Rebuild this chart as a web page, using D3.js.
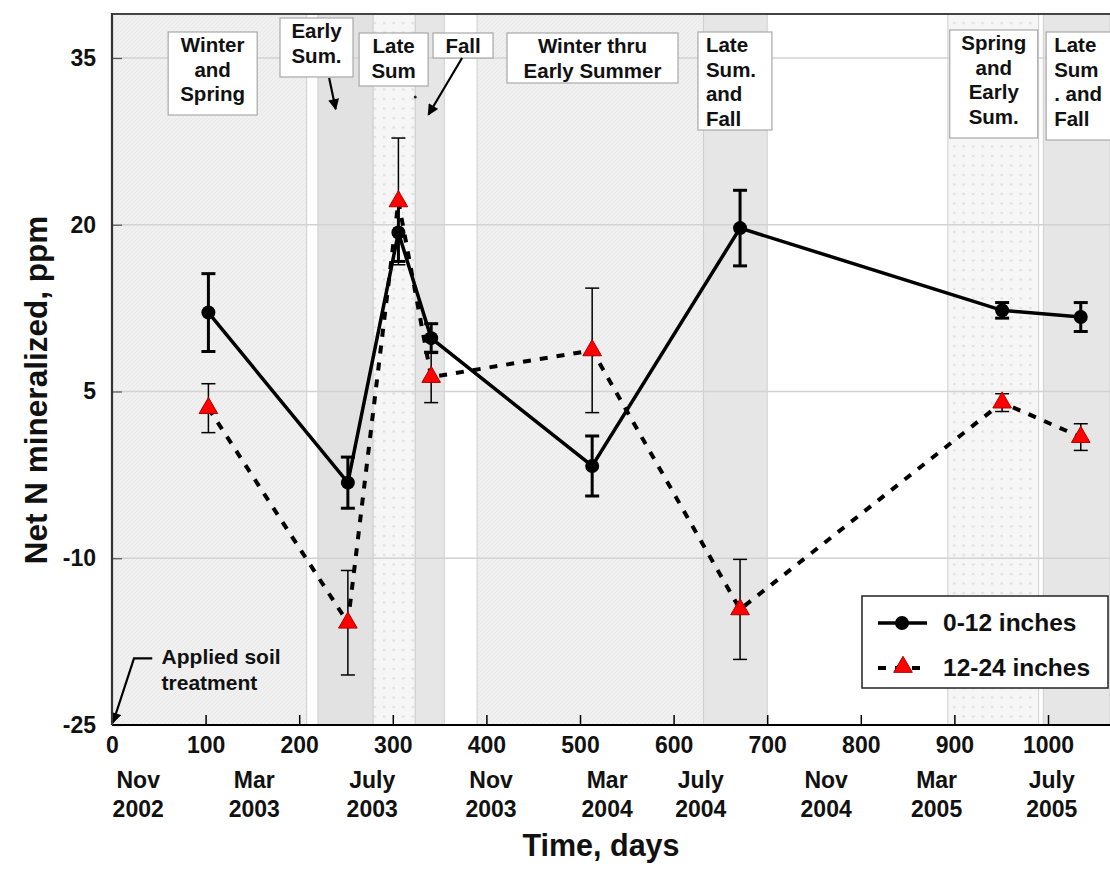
<!DOCTYPE html>
<html>
<head>
<meta charset="utf-8">
<script src="https://cdn.jsdelivr.net/npm/d3@7/dist/d3.min.js"></script>
<style>
  body { margin: 0; background: #fff; }
  svg { display: block; font-family: "Liberation Sans", Arial, sans-serif; font-weight: bold; }
</style>
</head>
<body>
<svg id="chart" width="1110" height="869"></svg>
<script>
// sampling day (days after soil treatment)
var days = [103, 252, 306, 341, 513, 671, 951, 1035];

// 0-12 inches
var shallow = [12.1, -3.2, 19.3, 9.8, -1.7, 19.7, 12.3, 11.7];
var shallowErr = [3.5, 2.3, 2.6, 1.3, 2.7, 3.4, 0.7, 1.3];

// 12-24 inches
var deep = [3.5, -15.8, 22.1, 6.3, 8.7, -14.6, 4.0, 0.9];
var deepErr = [2.2, 4.7, 5.7, 2.3, 5.6, 4.5, 0.8, 1.2];

var yTicks = [35, 20, 5, -10, -25];
var xTicks = [0, 100, 200, 300, 400, 500, 600, 700, 800, 900, 1000];

var monthNames = ['Nov', 'Mar', 'July', 'Nov', 'Mar', 'July', 'Nov', 'Mar', 'July'];
var monthYears = ['2002', '2003', '2003', '2003', '2004', '2004', '2004', '2005', '2005'];
var monthDays = [28, 152, 278, 405, 529, 629, 763, 881, 1004];

// seasonal bands (days)
var bandStart = [0, 220, 279, 324, 390, 632, 893, 995];
var bandEnd = [208, 279, 324, 355, 632, 700, 990, 1070];
var bandKind = ['hatch', 'dark', 'dots', 'mid', 'hatch', 'mid', 'dots', 'mid'];

// season label boxes: left edge in days, top in px, width / height in px
var seasonLines = [
    ['Winter', 'and', 'Spring'],
    ['Early', 'Sum.'],
    ['Late', 'Sum'],
    ['Fall'],
    ['Winter thru', 'Early Summer'],
    ['Late', 'Sum.', 'and', 'Fall'],
    ['Spring', 'and', 'Early', 'Sum.'],
    ['Late', 'Sum', '. and', 'Fall']
];
var seasonLeft = [60, 179.5, 264, 343, 422, 626, 895, 998];
var seasonTop = [32, 18, 33, 33, 33, 32, 30, 32];
var seasonW = [89, 73, 69, 60, 171, 74, 88, 72];
var seasonH = [83, 59, 53, 25, 50, 98, 108, 108];
var seasonAlign = ['middle', 'middle', 'middle', 'middle', 'middle', 'start', 'middle', 'start'];

var svg = d3.select('#chart'),
    plotLeft = 112, plotRight = 1110, plotTop = 14, plotBottom = 725;

var x = d3.scaleLinear().domain([0, 1000]).range([plotLeft, 1048]);
var y = d3.scaleLinear().domain([-25, 35]).range([plotBottom, 58]);
var xMax = x.invert(plotRight), yMax = y.invert(plotTop);

var defs = svg.append('defs');

var dots = defs.append('pattern').attr('id', 'dots')
    .attr('patternUnits', 'userSpaceOnUse').attr('width', 9.5).attr('height', 9.5);
dots.append('rect').attr('width', 9.5).attr('height', 9.5).attr('fill', '#f6f6f6');
dots.append('rect').attr('x', 3).attr('y', 3).attr('width', 2.5).attr('height', 2).attr('fill', '#dedede');

var hatch = defs.append('pattern').attr('id', 'hatch')
    .attr('patternUnits', 'userSpaceOnUse').attr('width', 4).attr('height', 4);
hatch.append('rect').attr('width', 4).attr('height', 4).attr('fill', '#f0f0f0');
hatch.append('path').attr('d', 'M0,4L4,0').attr('stroke', '#e9e9e9').attr('stroke-width', 1);

defs.append('marker').attr('id', 'arrow')
    .attr('viewBox', '0 0 10 10').attr('refX', 9).attr('refY', 5)
    .attr('markerWidth', 14).attr('markerHeight', 11)
    .attr('markerUnits', 'userSpaceOnUse')
    .attr('orient', 'auto')
  .append('path').attr('d', 'M0,0L10,5L0,10z').attr('fill', '#000');

var fills = {hatch: 'url(#hatch)', dark: '#e2e2e2', dots: 'url(#dots)', mid: '#e6e6e6'};

// bands
svg.append('g').selectAll('rect')
    .data(bandStart)
    .enter().append('rect')
    .attr('x', function(d){ return x(d); })
    .attr('y', plotTop)
    .attr('width', function(d, i){ return x(Math.min(bandEnd[i], xMax)) - x(d); })
    .attr('height', plotBottom - plotTop)
    .attr('fill', function(d, i){ return fills[bandKind[i]]; })
    .attr('stroke', '#cfcfcf')
    .attr('stroke-width', 1);

// horizontal grid
svg.append('g').selectAll('line')
    .data(yTicks.slice(0, 4))
    .enter().append('line')
    .attr('x1', plotLeft).attr('x2', plotRight)
    .attr('y1', function(d){ return y(d); })
    .attr('y2', function(d){ return y(d); })
    .attr('stroke', '#d2d2d2')
    .attr('stroke-width', 1.5);

// label boxes
var boxes = svg.append('g').selectAll('g')
    .data(seasonLines)
    .enter().append('g')
    .attr('transform', function(d, i){ return 'translate(' + x(seasonLeft[i]) + ',' + seasonTop[i] + ')'; });

boxes.append('rect')
    .attr('width', function(d, i){ return seasonW[i]; })
    .attr('height', function(d, i){ return seasonH[i]; })
    .attr('fill', '#fff')
    .attr('stroke', '#a8a8a8')
    .attr('stroke-width', 1.2);

boxes.each(function(lines, i){
    var g = d3.select(this);
    var tx = seasonAlign[i] === 'middle' ? seasonW[i] / 2 : 8;
    g.selectAll('text')
        .data(lines)
        .enter().append('text')
        .attr('x', tx)
        .attr('y', function(d, j){ return 20 + j * 24.5; })
        .attr('text-anchor', seasonAlign[i])
        .attr('font-size', 20.5)
        .attr('fill', '#111')
        .text(function(d){ return d; });
});

// arrows (days, ppm)
var arrows = [
    [[232, 33.2], [239, 30.4]],
    [[374, 35.0], [338, 29.9]],
    [[43, -19.0], [23.5, -19.0], [1, -24.8]]
];
var arrowLine = d3.line()
    .x(function(d){ return x(d[0]); })
    .y(function(d){ return y(d[1]); });

svg.append('g').selectAll('path')
    .data(arrows)
    .enter().append('path')
    .attr('d', arrowLine)
    .attr('fill', 'none')
    .attr('stroke', '#000')
    .attr('stroke-width', 2.2)
    .attr('marker-end', 'url(#arrow)');

svg.append('circle').attr('cx', x(324)).attr('cy', y(31.5)).attr('r', 1.5).attr('fill', '#222');

svg.append('text')
    .attr('x', x(53)).attr('y', y(-19.5))
    .attr('font-size', 21)
    .attr('fill', '#111')
  .selectAll('tspan')
    .data(['Applied soil', 'treatment'])
    .enter().append('tspan')
    .attr('x', x(53))
    .attr('dy', function(d, i){ return i ? 26 : 0; })
    .text(function(d){ return d; });

// error bars
function errorBars(vals, errs, width, cap){
    var g = svg.append('g').attr('stroke', '#000').attr('stroke-width', width);
    var bars = g.selectAll('g').data(days).enter().append('g');
    bars.append('line')
        .attr('x1', function(d){ return x(d); })
        .attr('x2', function(d){ return x(d); })
        .attr('y1', function(d, i){ return y(vals[i] + errs[i]); })
        .attr('y2', function(d, i){ return y(vals[i] - errs[i]); });
    [1, -1].forEach(function(s){
        bars.append('line')
            .attr('x1', function(d){ return x(d) - cap; })
            .attr('x2', function(d){ return x(d) + cap; })
            .attr('y1', function(d, i){ return y(vals[i] + s * errs[i]); })
            .attr('y2', function(d, i){ return y(vals[i] + s * errs[i]); });
    });
}

errorBars(deep, deepErr, 1.5, 7);
errorBars(shallow, shallowErr, 3, 7);

var line = d3.line()
    .x(function(d, i){ return x(days[i]); })
    .y(function(d){ return y(d); });

svg.append('path')
    .datum(deep)
    .attr('d', line)
    .attr('fill', 'none')
    .attr('stroke', '#000')
    .attr('stroke-width', 4)
    .attr('stroke-dasharray', '8,9');

svg.append('path')
    .datum(shallow)
    .attr('d', line)
    .attr('fill', 'none')
    .attr('stroke', '#000')
    .attr('stroke-width', 3.5);

var tri = d3.symbol().type(d3.symbolTriangle).size(150);

svg.append('g').selectAll('path')
    .data(deep)
    .enter().append('path')
    .attr('d', tri)
    .attr('transform', function(d, i){ return 'translate(' + x(days[i]) + ',' + y(d) + ')'; })
    .attr('fill', '#ff0000')
    .attr('stroke', '#b00000')
    .attr('stroke-width', 1);

svg.append('g').selectAll('circle')
    .data(shallow)
    .enter().append('circle')
    .attr('cx', function(d, i){ return x(days[i]); })
    .attr('cy', function(d){ return y(d); })
    .attr('r', 7)
    .attr('fill', '#000');

// frame
svg.append('line').attr('x1', plotLeft).attr('x2', plotRight).attr('y1', plotTop).attr('y2', plotTop)
    .attr('stroke', '#444').attr('stroke-width', 2);

// axes
var fmt = function(d){ return String(d); };

var xAxis = svg.append('g').attr('transform', 'translate(0,' + plotBottom + ')');
xAxis.call(d3.axisBottom(x).tickValues(d3.range(0, xMax, 20)).tickSize(-4).tickFormat(''));
xAxis.call(d3.axisBottom(x).tickValues(xTicks).tickSize(-10).tickFormat(fmt));
xAxis.selectAll('.domain').remove();
xAxis.selectAll('line').attr('stroke', '#000').attr('stroke-width', 1.5);
xAxis.selectAll('text').attr('font-size', 23).attr('fill', '#111').attr('y', 28).attr('dy', 0);

var yAxis = svg.append('g').attr('transform', 'translate(' + plotLeft + ',0)');
yAxis.call(d3.axisLeft(y).tickValues(d3.range(-25, yMax, 5)).tickSize(-5).tickFormat(''));
yAxis.call(d3.axisLeft(y).tickValues(yTicks).tickSize(-10).tickFormat(fmt));
yAxis.selectAll('.domain').remove();
yAxis.selectAll('line').attr('stroke', '#555').attr('stroke-width', 1.2);
yAxis.selectAll('text').attr('font-size', 23).attr('fill', '#111').attr('x', -16);

svg.append('line').attr('x1', plotLeft).attr('x2', plotRight).attr('y1', plotBottom).attr('y2', plotBottom)
    .attr('stroke', '#000').attr('stroke-width', 2.2);
svg.append('line').attr('x1', plotLeft).attr('x2', plotLeft).attr('y1', plotTop - 1).attr('y2', plotBottom)
    .attr('stroke', '#333').attr('stroke-width', 2.2);

// date labels under the day axis
var dates = svg.append('g').attr('font-size', 23).attr('fill', '#111').attr('text-anchor', 'middle');
dates.selectAll('text.m')
    .data(monthDays)
    .enter().append('text').attr('class', 'm')
    .attr('x', function(d){ return x(d); })
    .attr('y', 788)
    .text(function(d, i){ return monthNames[i]; });
dates.selectAll('text.yr')
    .data(monthDays)
    .enter().append('text').attr('class', 'yr')
    .attr('x', function(d){ return x(d); })
    .attr('y', 817)
    .text(function(d, i){ return monthYears[i]; });

svg.append('text')
    .attr('x', 601).attr('y', 856)
    .attr('text-anchor', 'middle')
    .attr('font-size', 30.5)
    .attr('fill', '#111')
    .text('Time, days');

svg.append('text')
    .attr('transform', 'translate(47,390) rotate(-90)')
    .attr('text-anchor', 'middle')
    .attr('font-size', 31.5)
    .attr('fill', '#111')
    .text('Net N mineralized, ppm');

// legend
var legend = svg.append('g').attr('transform', 'translate(862,596)');
legend.append('rect').attr('width', 246).attr('height', 92)
    .attr('fill', '#fff').attr('stroke', '#222').attr('stroke-width', 1.5);
legend.append('line').attr('x1', 16).attr('x2', 65).attr('y1', 27).attr('y2', 27)
    .attr('stroke', '#000').attr('stroke-width', 3.5);
legend.append('circle').attr('cx', 40).attr('cy', 27).attr('r', 7).attr('fill', '#000');
legend.append('line').attr('x1', 16).attr('x2', 58).attr('y1', 72).attr('y2', 72)
    .attr('stroke', '#000').attr('stroke-width', 4).attr('stroke-dasharray', '8,9');
legend.append('path').attr('d', tri).attr('transform', 'translate(41,71)')
    .attr('fill', '#ff0000').attr('stroke', '#b00000').attr('stroke-width', 1);
legend.selectAll('text')
    .data(['0-12 inches', '12-24 inches'])
    .enter().append('text')
    .attr('x', 81)
    .attr('y', function(d, i){ return 35 + i * 45; })
    .attr('font-size', 24.5)
    .attr('fill', '#111')
    .text(function(d){ return d; });
</script>
</body>
</html>
